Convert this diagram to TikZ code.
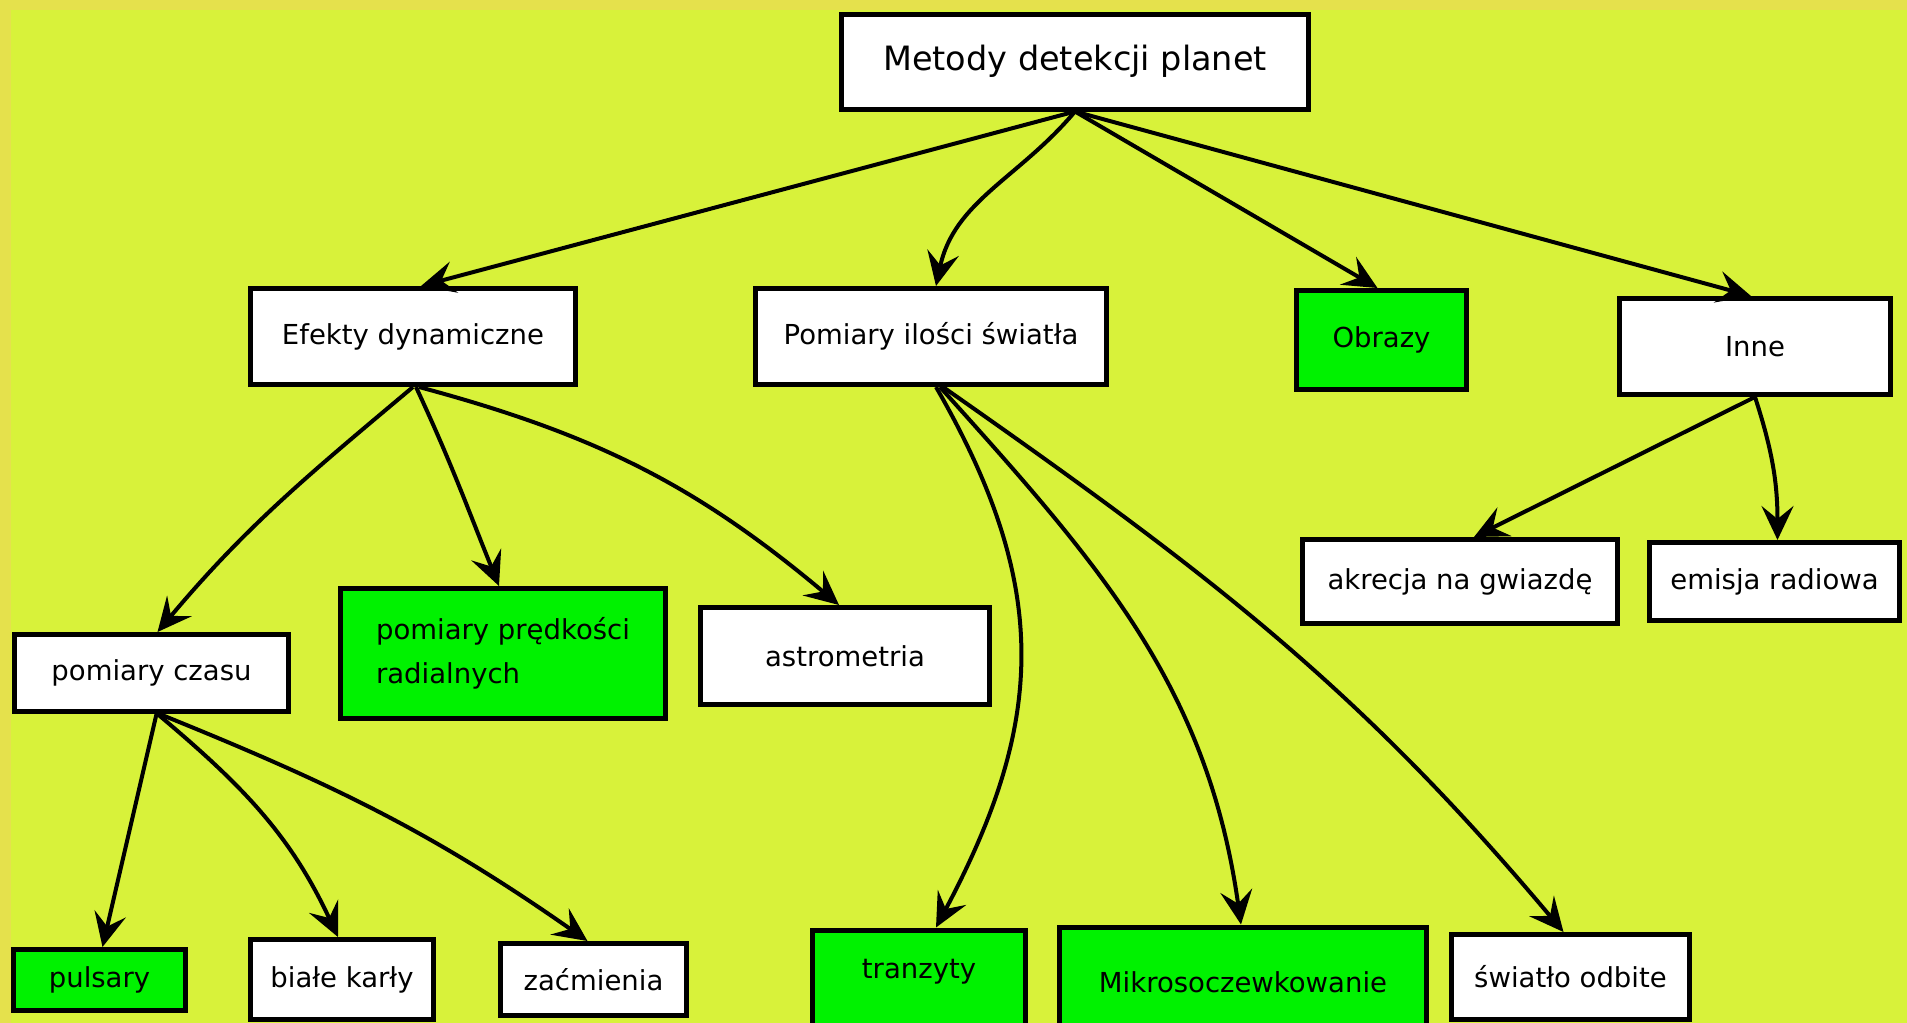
\documentclass[tikz,border=0pt]{standalone}
\usepackage{fontspec}
\setmainfont{DejaVu Sans}
\usetikzlibrary{arrows.meta}
\definecolor{outerbg}{RGB}{229,225,76}
\definecolor{innerbg}{RGB}{216,242,58}
\definecolor{boxgreen}{RGB}{0,242,0}
\begin{document}
\begin{tikzpicture}[x=1pt,y=-1pt,
  box/.style={draw=black,line width=5pt,fill=white,inner sep=0pt,font=\fontsize{27.5}{44}\selectfont},
  gbox/.style={box,fill=boxgreen},
  lbl/.style={inner sep=0pt,font=\fontsize{27.5}{33}\selectfont},
  arr/.style={line width=4pt,-{Stealth[length=34pt,width=32pt,inset=13pt]}}]
\useasboundingbox (0,0) rectangle (1907,1023);
\clip (0,0) rectangle (1907,1023);
\fill[outerbg] (0,0) rectangle (1907,1023);
\fill[innerbg] (11,10) rectangle (1907,1023);
% nodes
\node[box,minimum width=467,minimum height=95,font=\fontsize{33.5}{40}\selectfont] (top) at (1075,61.5) {Metody detekcji planet};
\node[box,minimum width=325,minimum height=96] (efekty) at (413,336.5) {Efekty dynamiczne};
\node[box,minimum width=351,minimum height=96] (pomiary) at (931,336.5) {Pomiary ilości światła};
\node[gbox,minimum width=170,minimum height=99] (obrazy) at (1381.5,340) {Obrazy};
\node[box,minimum width=271,minimum height=96] (inne) at (1755,346.5) {Inne};
\node[box,minimum width=315,minimum height=84] (akrecja) at (1460,581.5) {akrecja na gwiazdę};
\node[box,minimum width=250,minimum height=78] (emisja) at (1774.5,581.5) {emisja radiowa};
\node[box,minimum width=274,minimum height=77] (czasu) at (151.5,673) {pomiary czasu};
\node[gbox,minimum width=325,minimum height=130,align=left] (predk) at (503,653.5) {pomiary prędkości\\radialnych};
\node[box,minimum width=289,minimum height=97] (astro) at (845,656) {astrometria};
\node[gbox,minimum width=172,minimum height=61] (pulsary) at (99.5,980) {pulsary};
\node[box,minimum width=183,minimum height=80] (biale) at (342,979.5) {białe karły};
\node[box,minimum width=186,minimum height=72] (zacm) at (593.5,979.5) {zaćmienia};
\node[gbox,minimum width=213,minimum height=130] (tranzyty) at (919,995) {};
\node[lbl] (tranzytyT) at (919,972) {tranzyty};
\node[gbox,minimum width=367,minimum height=130] (mikro) at (1243,992) {};
\node[lbl] (mikroT) at (1243,982) {Mikrosoczewkowanie};
\node[box,minimum width=238,minimum height=85] (swiatlo) at (1570.5,977) {światło odbite};
% connectors
\draw[arr] (top.south) -- ([xshift=8]efekty.north);
\draw[arr] (top.south) to[out=-130,in=78] ([xshift=5]pomiary.north);
\draw[arr] (top.south) -- ([xshift=-4]obrazy.north);
\draw[arr] (top.south) -- ([xshift=-4]inne.north);
\draw[arr] (efekty.south) to[out=-140,in=50] ([xshift=6]czasu.north);
\draw[arr] ([xshift=3]efekty.south) to[out=-65,in=112] ([xshift=-4]predk.north);
\draw[arr] ([xshift=6]efekty.south) to[out=-15,in=140] ([xshift=-6]astro.north);
\draw[arr] ([xshift=5]pomiary.south) to[out=-60,in=62,looseness=1.1] ([xshift=17]tranzyty.north);
\draw[arr] ([xshift=9]pomiary.south) to[out=-48,in=98] ([xshift=-2]mikro.north);
\draw[arr] ([xshift=12]pomiary.south) to[out=-35,in=130] ([xshift=-7]swiatlo.north);
\draw[arr] (inne.south) -- ([xshift=14]akrecja.north);
\draw[arr] (inne.south) to[out=-72,in=90] ([xshift=3]emisja.north);
\draw[arr] ([xshift=5]czasu.south) -- ([xshift=3]pulsary.north);
\draw[arr] ([xshift=6]czasu.south) to[out=-40,in=115] ([xshift=-4]biale.north);
\draw[arr] ([xshift=8]czasu.south) to[out=-22,in=145] ([xshift=-6]zacm.north);
\end{tikzpicture}
\end{document}
